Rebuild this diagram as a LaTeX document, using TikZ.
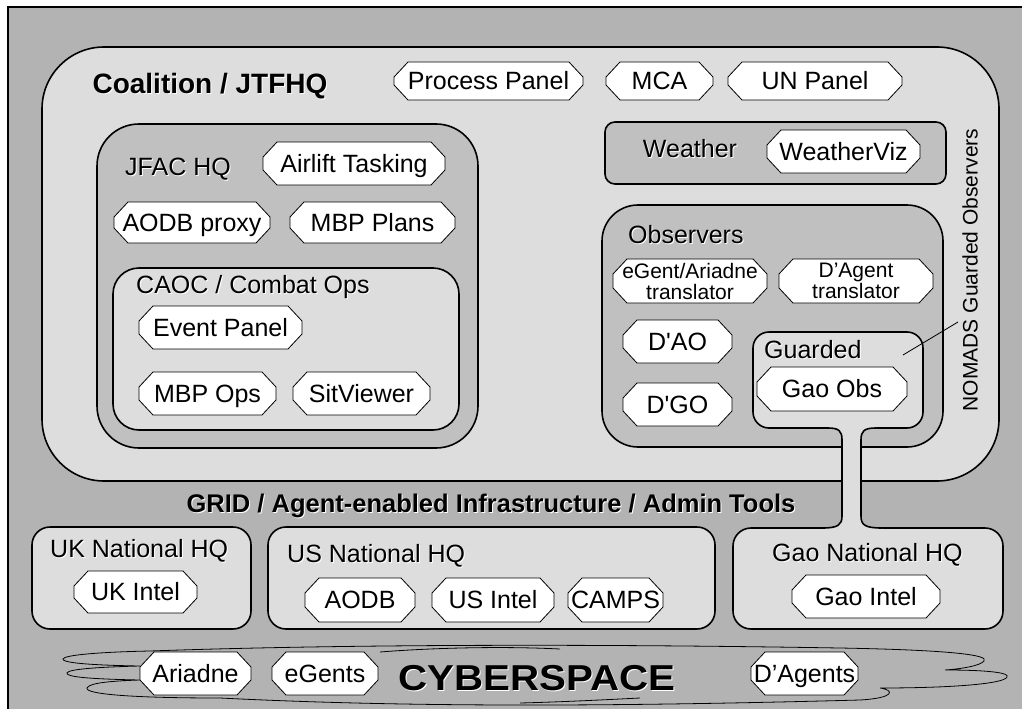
\documentclass[tikz,border=0pt]{standalone}
\usepackage{fontspec}
\setmainfont{Liberation Sans}
\usepackage{graphicx}
\definecolor{bggray}{RGB}{179,179,179}
\definecolor{lightg}{RGB}{221,221,221}
\definecolor{midg}{RGB}{192,192,192}
\tikzset{
  box/.style={draw=black, line width=1.6pt},
  lightbox/.style={box, fill=lightg},
  midbox/.style={box, fill=midg},
  octshape/.style={draw=black, fill=white, line width=0.8pt, line join=miter},
  octtext/.style={inner sep=0pt, font=\fontsize{25}{25}\selectfont, text height=17.9pt, text depth=0pt},
  lbl/.style={inner sep=0pt, font=\fontsize{25}{25}\selectfont},
  cloudline/.style={draw=black, line width=0.8pt},
}
\newcommand\octpath[4]{%
  \path[octshape] (#1+14,#2) -- (#3-14,#2) -- (#3,#2+15) -- (#3,#4-15) -- (#3-14,#4) -- (#1+14,#4) -- (#1,#4-15) -- (#1,#2+15) -- cycle;}
\newcommand\octnode[6]{% name, x1,y1,x2,y2, text
  \octpath{#2}{#3}{#4}{#5}
  \node[octtext] (#1) at ({(#2+#4)/2},{(#3+#5)/2}) {#6};}
\newcommand\shlbl[4][]{% opts, name, pos, text
  \node[lbl,#1,text=white,xshift=1pt,yshift=-1pt] (#2-sh) at #3 {#4};
  \node[lbl,#1] (#2) at #3 {#4};}
\begin{document}
\begin{tikzpicture}[x=1pt,y=-1pt]
\useasboundingbox (0,0) rectangle (1022,709);
\fill[white] (0,0) rectangle (1022,709);
\fill[bggray] (8,7) rectangle (1022,709);
\draw[line width=2.6pt] (8,709) -- (8,7) -- (1022,7);

% containers
\draw[lightbox, rounded corners=62pt] (42,47) rectangle (999,481);
\draw[midbox, rounded corners=42pt] (97,124) rectangle (478,448);
\draw[lightbox, rounded corners=26pt] (113,268) rectangle (459,430);
\draw[midbox, rounded corners=10pt] (605,122) rectangle (946,184);
\draw[midbox, rounded corners=36pt] (602,205) rectangle (943,447);
\draw[lightbox, rounded corners=16pt] (753,332) rectangle (923,428);
\draw[lightbox, rounded corners=18pt] (32,527) rectangle (251,629);
\draw[lightbox, rounded corners=18pt] (268,527) rectangle (715,629);
\draw[lightbox, rounded corners=18pt] (733,528) rectangle (1003,629);

% pipe from Guarded to Gao National HQ
\fill[lightg] (828,424) -- (828,428) .. controls (839,428) and (842,431) .. (842,440) -- (842,516)
  .. controls (842,525) and (838,528) .. (822,528) -- (822,533) -- (882,533) -- (882,528)
  .. controls (865,528) and (861,525) .. (861,516) -- (861,440)
  .. controls (861,431) and (864,428) .. (876,428) -- (876,424) -- cycle;
\draw[box] (828,428) .. controls (839,428) and (842,431) .. (842,440) -- (842,516)
  .. controls (842,525) and (838,528) .. (822,528);
\draw[box] (876,428) .. controls (864,428) and (861,431) .. (861,440) -- (861,516)
  .. controls (861,525) and (865,528) .. (882,528);

% Coalition level
\shlbl[font=\fontsize{28}{28}\selectfont\bfseries, anchor=base]{coal}{(210,93)}{Coalition / JTFHQ}
\octnode{pp}{394}{62}{583}{100}{Process Panel}
\octnode{mca}{606}{62}{713}{100}{MCA}
\octnode{un}{728}{62}{902}{100}{UN Panel}

% JFAC HQ
\shlbl[anchor=base west]{jfac}{(125,175)}{JFAC HQ}
\octnode{air}{263}{142}{445}{185}{Airlift Tasking}
\octnode{aodbp}{114}{202}{270}{243}{AODB proxy}
\octnode{mbpp}{290}{202}{455}{243}{MBP Plans}
\shlbl[anchor=base west]{caoc}{(136,293)}{CAOC / Combat Ops}
\octnode{ev}{139}{306}{302}{349}{Event Panel}
\octnode{mbpo}{139}{372}{276}{415}{MBP Ops}
\octnode{sit}{293}{372}{430}{415}{SitViewer}

% Weather
\shlbl[anchor=base]{weather}{(690,157)}{Weather}
\octnode{wviz}{767}{130}{920}{173}{WeatherViz}

% Observers
\shlbl[anchor=base west]{obs}{(628,243)}{Observers}
\octpath{613}{259}{767}{303}
\node[inner sep=0pt, align=center, font=\fontsize{21}{21}\selectfont] (egtr) at (690,281) {eGent/Ariadne\\translator};
\octpath{779}{259}{933}{303}
\node[inner sep=0pt, align=center, font=\fontsize{21}{21}\selectfont] (datr) at (856,281) {D’Agent\\translator};
\octnode{dao}{623}{320}{732}{363}{D\textquotesingle AO}
\octnode{dgo}{623}{383}{732}{426}{D\textquotesingle GO}
\shlbl[anchor=base west]{guarded}{(764,358)}{Guarded}
\octnode{gaoobs}{757}{367}{907}{411}{Gao Obs}

% NOMADS label and leader
\node[inner sep=0pt, font=\fontsize{21}{21}\selectfont, text height=15pt, text depth=0pt, rotate=90] (nomads) at (970,270) {NOMADS Guarded Observers};
\coordinate (leadA) at (958,322);
\coordinate (leadB) at (903,355);
\draw[line width=0.8pt] (leadA) -- (leadB);

% GRID
\shlbl[font=\fontsize{25.5}{25.5}\selectfont\bfseries, anchor=base]{grid}{(491,512)}{GRID / Agent-enabled Infrastructure / Admin Tools}

% National HQs
\shlbl[anchor=base west]{ukhq}{(50,557)}{UK National HQ}
\octnode{ukintel}{74}{571}{197}{613}{UK Intel}
\shlbl[anchor=base west]{ushq}{(287,562)}{US National HQ}
\octnode{aodb}{305}{578}{415}{622}{AODB}
\octnode{usintel}{432}{578}{554}{622}{US Intel}
\octnode{camps}{568}{578}{663}{622}{CAMPS}
\shlbl[anchor=base west]{gaohq}{(772,561)}{Gao National HQ}
\octnode{gaointel}{792}{575}{940}{618}{Gao Intel}

% Cyberspace cloud
\draw[cloudline] (150,651) .. controls (350,644) and (600,644) .. (840,648)
  .. controls (950,650) and (990,655) .. (984,661)
  .. controls (980,666) and (960,669) .. (945,670)
  .. controls (990,670) and (1010,673) .. (1007,677)
  .. controls (1004,684) and (950,688) .. (880,688)
  .. controls (895,690) and (895,698) .. (860,700)
  .. controls (600,707) and (400,707) .. (220,698)
  .. controls (130,698) and (85,694) .. (87,688)
  .. controls (89,683) and (110,681) .. (140,680)
  .. controls (90,679) and (66,677) .. (67,673)
  .. controls (68,669) and (100,667) .. (140,666)
  .. controls (80,665) and (62,662) .. (63,659)
  .. controls (64,655) and (100,652) .. (150,651) -- cycle;
\draw[cloudline] (380,652) .. controls (430,648) and (500,646) .. (560,649);
\draw[cloudline] (520,703) .. controls (560,702) and (600,700) .. (640,698);
\octnode{ariadne}{140}{652}{251}{695}{Ariadne}
\octnode{egents}{272}{652}{378}{695}{eGents}
\octnode{dagents}{751}{652}{858}{695}{D’Agents}
\shlbl[font=\fontsize{36}{36}\selectfont\bfseries, anchor=base west]{cyber}{(398,690)}{\scalebox{1.12}[1]{CYBERSPACE}}
\end{tikzpicture}
\end{document}
